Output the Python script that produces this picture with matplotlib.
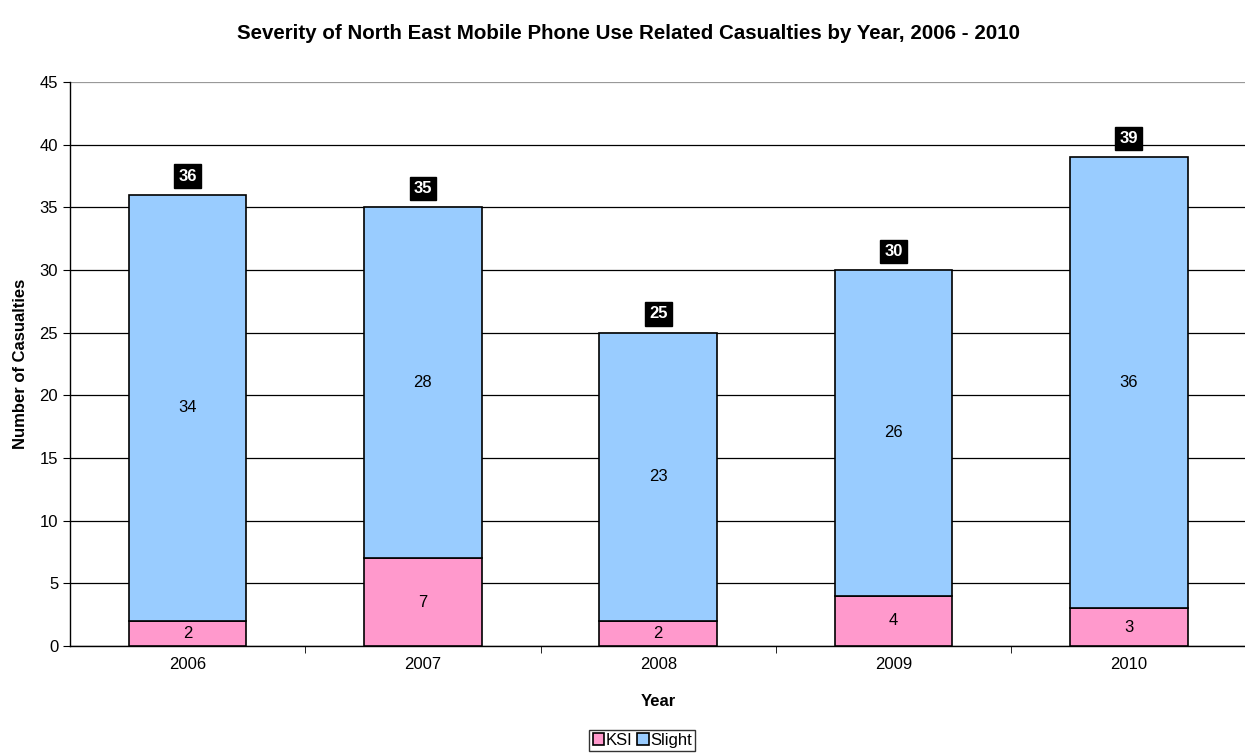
import matplotlib
matplotlib.use("Agg")
import matplotlib.pyplot as plt
import numpy as np

plt.rcParams['font.family'] = ['Liberation Sans', 'DejaVu Sans']

years = ["2006", "2007", "2008", "2009", "2010"]
ksi = [2, 7, 2, 4, 3]
slight = [34, 28, 23, 26, 36]
totals = [a + b for a, b in zip(ksi, slight)]

fs = 12

fig = plt.figure(figsize=(12.45, 7.56), dpi=100)
ax = fig.add_axes([0.0562, 0.1455, 0.945, 0.746])

x = np.arange(len(years))
w = 0.5
b1 = ax.bar(x, ksi, w, color="#ff99cc", edgecolor="black", linewidth=1.2, label="KSI", zorder=3)
b2 = ax.bar(x, slight, w, bottom=ksi, color="#99ccff", edgecolor="black", linewidth=1.2, label="Slight", zorder=3)

# segment values in the middle of each piece, totals in black boxes on top
for i in range(len(years)):
    ax.text(x[i], ksi[i] / 2, str(ksi[i]), ha="center", va="center", fontsize=fs, zorder=4)
    ax.text(x[i], ksi[i] + slight[i] / 2, str(slight[i]), ha="center", va="center", fontsize=fs, zorder=4)
    ax.text(x[i], totals[i] + 1.5, str(totals[i]), ha="center", va="center", fontsize=fs,
            fontweight="bold", color="white", zorder=4,
            bbox=dict(boxstyle="square,pad=0.25", facecolor="black", edgecolor="black"))

ax.set_xlim(-0.5, len(years) - 0.5)
ax.set_ylim(0, 45)
ax.set_yticks(range(0, 46, 5))
ax.yaxis.grid(True, color="black", linewidth=0.9, zorder=0)
ax.get_ygridlines()[-1].set_color("#999999")
ax.set_xticks(x)
ax.set_xticklabels(years, fontsize=fs)
ax.tick_params(axis="x", length=0, pad=8)
ax.set_xticks(np.arange(0.5, len(years) - 0.5, 1), minor=True)
ax.tick_params(axis="x", which="minor", length=5, direction="out")
ax.tick_params(axis="y", labelsize=fs, length=5, direction="out")

for s in ["top", "right"]:
    ax.spines[s].set_visible(False)
ax.spines["left"].set_linewidth(1.0)
ax.spines["bottom"].set_linewidth(1.0)

ax.set_xlabel("Year", fontsize=fs, fontweight="bold", labelpad=16)
ax.set_ylabel("Number of Casualties", fontsize=fs, fontweight="bold", labelpad=8)
fig.suptitle("Severity of North East Mobile Phone Use Related Casualties by Year, 2006 - 2010",
             fontsize=14.8, fontweight="bold", x=0.505, y=0.968)

fig.legend(handles=[b1, b2], labels=["KSI", "Slight"], loc="upper center",
           bbox_to_anchor=(0.516, 0.035), ncol=2, frameon=True, fancybox=False,
           edgecolor="black", fontsize=fs, handlelength=0.7, handleheight=0.7,
           handletextpad=0.1, columnspacing=0.25, borderpad=0.2, borderaxespad=0)

fig.savefig("out.png", dpi=100)
